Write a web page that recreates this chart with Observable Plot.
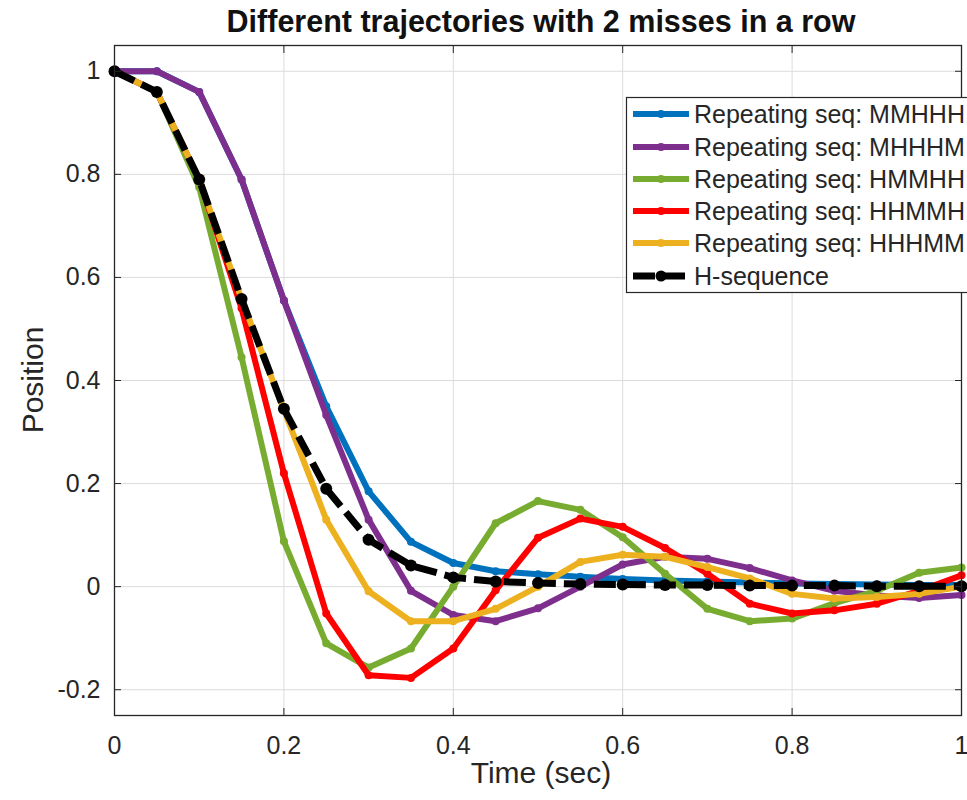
<!DOCTYPE html>
<html>
<head>
<meta charset="utf-8">
<script src="https://cdn.jsdelivr.net/npm/d3@7"></script>
<script src="https://cdn.jsdelivr.net/npm/@observablehq/plot@0.6"></script>
<style>
  html, body { margin: 0; padding: 0; background: #fff; }
  #chart { width: 967px; height: 800px; overflow: hidden; }
</style>
</head>
<body>
<div id="chart"></div>
<script>
// ---- data ----
const time = [0, 0.05, 0.1, 0.15, 0.2, 0.25, 0.3, 0.35, 0.4, 0.45, 0.5, 0.55, 0.6, 0.65, 0.7, 0.75, 0.8, 0.85, 0.9, 0.95, 1];
const seqMMHHH = [1, 1, 0.96, 0.79, 0.555, 0.35, 0.185, 0.087, 0.046, 0.03, 0.024, 0.019, 0.015, 0.012, 0.01, 0.008, 0.006, 0.005, 0.004, 0.003, 0.003];
const seqMHHHM = [1, 1, 0.96, 0.79, 0.555, 0.333, 0.13, -0.008, -0.055, -0.067, -0.042, 0.0, 0.043, 0.058, 0.054, 0.036, 0.012, -0.008, -0.017, -0.022, -0.016];
const seqHMMHH = [1, 0.96, 0.775, 0.445, 0.088, -0.11, -0.157, -0.12, 0.0, 0.123, 0.166, 0.149, 0.096, 0.025, -0.043, -0.067, -0.062, -0.032, -0.008, 0.027, 0.037];
const seqHHMMH = [1, 0.96, 0.79, 0.54, 0.22, -0.052, -0.172, -0.177, -0.12, -0.007, 0.095, 0.132, 0.116, 0.075, 0.025, -0.033, -0.052, -0.046, -0.033, -0.008, 0.022];
const seqHHHMM = [1, 0.96, 0.79, 0.558, 0.343, 0.13, -0.009, -0.067, -0.067, -0.043, 0.0, 0.048, 0.062, 0.058, 0.038, 0.016, -0.014, -0.023, -0.02, -0.014, 0.0];
const seqH     = [1, 0.96, 0.79, 0.558, 0.345, 0.19, 0.091, 0.041, 0.018, 0.01, 0.007, 0.005, 0.004, 0.003, 0.003, 0.002, 0.002, 0.002, 0.001, 0.001, 0.001];

const seriesNames = ["Repeating seq: MMHHH", "Repeating seq: MHHHM", "Repeating seq: HMMHH", "Repeating seq: HHMMH", "Repeating seq: HHHMM", "H-sequence"];
const seriesValues = [seqMMHHH, seqMHHHM, seqHMMHH, seqHHMMH, seqHHHMM, seqH];
const seriesColors = ["#0072BD", "#7E2F8E", "#77AC30", "#FF0000", "#EDB120", "#000000"];

const xTicks = [0, 0.2, 0.4, 0.6, 0.8, 1];
const yTicks = [-0.2, 0, 0.2, 0.4, 0.6, 0.8, 1];

const titleText = "Different trajectories with 2 misses in a row";
const xLabel = "Time (sec)";
const yLabel = "Position";

// ---- build ----
const FONT = "'Liberation Sans', Arial, Helvetica, sans-serif";
const INK = "#262626";
const seriesData = seriesValues.map(vals => time.map((t, i) => ({t, v: vals[i]})));

const lineMarks = [];
seriesData.forEach((data, k) => {
  const isH = k === seriesData.length - 1;
  lineMarks.push(Plot.line(data, {
    x: "t", y: "v", stroke: seriesColors[k],
    strokeWidth: isH ? 7 : 6,
    strokeLinejoin: "round",
    strokeLinecap: isH ? "butt" : "round",
    strokeDasharray: isH ? "22,8" : null
  }));
  lineMarks.push(Plot.dot(data, {
    x: "t", y: "v", fill: seriesColors[k], stroke: "none", r: isH ? 6 : 4
  }));
});

const blank = () => "";
const chart = Plot.plot({
  width: 967,
  height: 800,
  marginLeft: 114,
  marginRight: 6,
  marginTop: 45,
  marginBottom: 85,
  style: {fontFamily: FONT, color: INK, background: "#fff", overflow: "visible"},
  x: {domain: [0, 1], label: null},
  y: {domain: [-0.25, 1.05], label: null},
  marks: [
    Plot.gridX(xTicks, {stroke: "#dcdcdc", strokeOpacity: 1, strokeWidth: 1}),
    Plot.gridY(yTicks, {stroke: "#dcdcdc", strokeOpacity: 1, strokeWidth: 1}),
    ...lineMarks,
    Plot.frame({stroke: INK, strokeWidth: 1.3}),
    Plot.axisX(xTicks, {anchor: "bottom", tickSize: 0, tickPadding: 21, tickFormat: d => String(d), fontSize: 25, label: null, fill: INK}),
    Plot.axisX(xTicks, {anchor: "bottom", tickSize: -7, tickFormat: blank, label: null, stroke: INK}),
    Plot.axisX(xTicks, {anchor: "top", tickSize: -7, tickFormat: blank, label: null, stroke: INK}),
    Plot.axisY(yTicks, {anchor: "left", tickSize: 0, tickPadding: 14, tickFormat: d => String(d), fontSize: 25, label: null, fill: INK}),
    Plot.axisY(yTicks, {anchor: "left", tickSize: -7, tickFormat: blank, label: null, stroke: INK}),
    Plot.axisY(yTicks, {anchor: "right", tickSize: -7, tickFormat: blank, label: null, stroke: INK})
  ]
});

document.getElementById("chart").appendChild(chart);

// ---- titles and labels ----
const svg = d3.select(chart);
svg.append("text")
  .attr("x", 541).attr("y", 32)
  .attr("text-anchor", "middle")
  .attr("font-family", FONT).attr("font-size", 30.5).attr("font-weight", "bold")
  .attr("fill", "#111")
  .text(titleText);
svg.append("text")
  .attr("x", 541).attr("y", 783)
  .attr("text-anchor", "middle")
  .attr("font-family", FONT).attr("font-size", 30)
  .attr("fill", INK)
  .text(xLabel);
svg.append("text")
  .attr("transform", "translate(43,380) rotate(-90)")
  .attr("text-anchor", "middle")
  .attr("font-family", FONT).attr("font-size", 30)
  .attr("fill", INK)
  .text(yLabel);

// ---- legend ----
const lg = svg.append("g");
lg.append("rect")
  .attr("x", 626.5).attr("y", 97.5).attr("width", 400).attr("height", 195)
  .attr("fill", "#fff").attr("stroke", INK).attr("stroke-width", 1.2);
const rowY = [114, 147, 179, 211, 243, 276];
seriesNames.forEach((name, k) => {
  const isH = k === seriesNames.length - 1;
  const y = rowY[k];
  lg.append("line")
    .attr("x1", 633).attr("x2", 689).attr("y1", y).attr("y2", y)
    .attr("stroke", seriesColors[k]).attr("stroke-width", isH ? 7 : 6)
    .attr("stroke-dasharray", isH ? "22,8" : null);
  lg.append("circle")
    .attr("cx", 661).attr("cy", y).attr("r", isH ? 5.5 : 4)
    .attr("fill", seriesColors[k]);
  lg.append("text")
    .attr("x", 694).attr("y", y + 9)
    .attr("text-anchor", "start")
    .attr("font-family", FONT).attr("font-size", 25)
    .attr("fill", INK)
    .text(name);
});
</script>
</body>
</html>
